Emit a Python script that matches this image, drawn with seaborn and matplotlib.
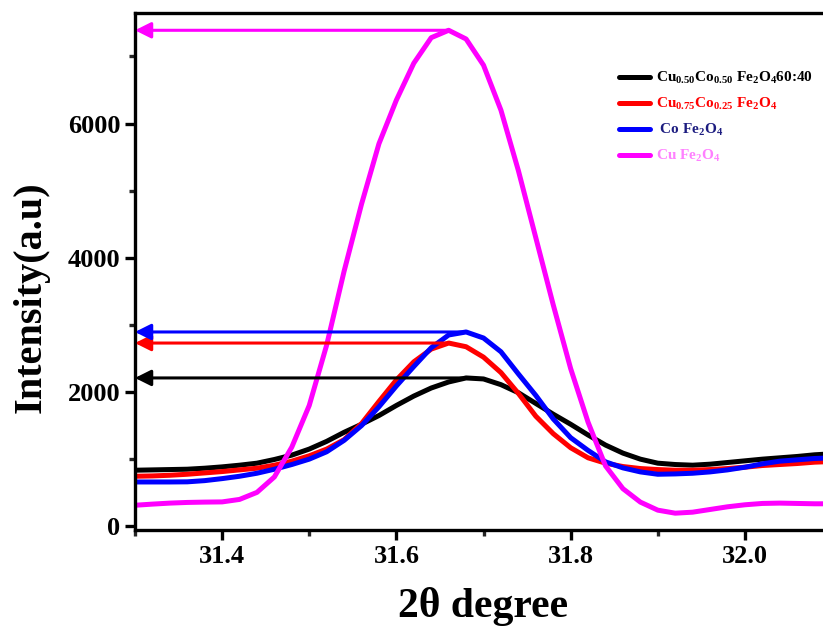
"""XRD (311) peak comparison of Cu/Co ferrite samples, redrawn with seaborn."""

import matplotlib
matplotlib.use("Agg")
import matplotlib.pyplot as plt
import numpy as np
import pandas as pd
import seaborn as sns
from matplotlib.ticker import FormatStrFormatter, MultipleLocator

two_theta = np.round(np.arange(31.30, 32.101, 0.02), 2)

cu50co50 = [835, 840, 845, 850, 865, 885, 910, 940, 995, 1060,
            1150, 1265, 1400, 1520, 1650, 1800, 1940, 2060, 2150, 2210,
            2195, 2110, 1990, 1830, 1670, 1520, 1360, 1210, 1090, 1000,
            940, 920, 910, 925, 950, 975, 1000, 1020, 1040, 1065, 1080]
cu75co25 = [745, 750, 760, 775, 795, 815, 840, 865, 910, 970,
            1050, 1150, 1290, 1530, 1860, 2180, 2450, 2640, 2730, 2675,
            2520, 2290, 1980, 1640, 1380, 1170, 1020, 940, 890, 860,
            845, 835, 835, 845, 860, 880, 905, 920, 935, 955, 965]
cofe2o4 = [660, 660, 660, 662, 680, 710, 745, 790, 850, 920,
           1000, 1110, 1280, 1500, 1780, 2090, 2380, 2660, 2850, 2895,
           2805, 2600, 2270, 1950, 1600, 1320, 1130, 960, 870, 810,
           775, 780, 790, 810, 840, 880, 930, 970, 990, 1010, 1020]
cufe2o4 = [313, 330, 345, 355, 360, 363, 400, 505, 735, 1180,
           1800, 2700, 3800, 4800, 5700, 6350, 6900, 7280, 7390, 7260,
           6870, 6200, 5300, 4300, 3300, 2350, 1550, 900, 560, 360,
           240, 195, 210, 250, 290, 320, 340, 345, 340, 335, 335]

labels = [
    r"Cu$_{0.50}$Co$_{0.50}$ Fe$_2$O$_4$60:40",
    r"Cu$_{0.75}$Co$_{0.25}$ Fe$_2$O$_4$",
    r" Co Fe$_2$O$_4$",
    r"Cu Fe$_2$O$_4$",
]
line_colors = ["black", "red", "blue", "magenta"]
text_colors = ["black", "red", "#1c1c80", "#ff80ff"]
series = [cu50co50, cu75co25, cofe2o4, cufe2o4]

df = pd.concat(
    [pd.DataFrame({"two_theta": two_theta, "intensity": s, "sample": lab})
     for s, lab in zip(series, labels)],
    ignore_index=True,
)

sns.set_theme(style="ticks")
plt.rcParams["font.family"] = ["Liberation Serif", "DejaVu Serif"]
plt.rcParams["font.weight"] = "bold"
plt.rcParams["mathtext.fontset"] = "custom"
plt.rcParams["mathtext.rm"] = "Liberation Serif:bold"
plt.rcParams["mathtext.bf"] = "Liberation Serif:bold"
plt.rcParams["mathtext.default"] = "bf"

fig = plt.figure(figsize=(8.23, 6.42), dpi=100)
ax = fig.add_axes([0.164, 0.174, 0.847, 0.806])

sns.lineplot(data=df, x="two_theta", y="intensity", hue="sample",
             palette=dict(zip(labels, line_colors)), linewidth=3.6,
             sort=False, ax=ax, legend=False)

x_left, x_right = 31.3, 32.1
ax.set_xlim(x_left, x_right)
ax.set_ylim(-60, 7650)

# arrows from each peak to the intensity axis
for s, c in zip(series, line_colors):
    i = int(np.argmax(s))
    ax.annotate("", xy=(x_left, s[i]), xytext=(two_theta[i], s[i]),
                arrowprops=dict(arrowstyle="-|>", color=c, lw=2.2,
                                mutation_scale=24, shrinkA=0, shrinkB=0))

handles = [plt.Line2D([], [], color=c, lw=3.6) for c in line_colors]
leg = ax.legend(handles, labels, loc="upper left",
                bbox_to_anchor=(0.736, 0.912), bbox_transform=fig.transFigure,
                frameon=False, fontsize=11, handlelength=2.0,
                handletextpad=0.4, labelspacing=0.65)
for t, c in zip(leg.get_texts(), text_colors):
    t.set_color(c)
    t.set_fontweight("bold")

ax.xaxis.set_major_locator(MultipleLocator(0.2))
ax.xaxis.set_minor_locator(MultipleLocator(0.1))
ax.yaxis.set_major_locator(MultipleLocator(2000))
ax.yaxis.set_minor_locator(MultipleLocator(1000))
ax.tick_params(which="major", direction="out", length=7, width=2.4,
               labelsize=19, colors="black")
ax.tick_params(which="minor", direction="out", length=4, width=2.4)
ax.xaxis.set_major_formatter(FormatStrFormatter("%.1f"))
for lab in ax.get_xticklabels() + ax.get_yticklabels():
    lab.set_fontweight("bold")
for sp in ax.spines.values():
    sp.set_linewidth(2.4)
    sp.set_color("black")

ax.set_xlabel("2θ degree", fontsize=30, fontweight="bold", labelpad=14,
              color="black")
ax.set_ylabel("Intensity(a.u)", fontsize=29, fontweight="bold", color="black")
ax.yaxis.set_label_coords(-0.122, 0.45)

fig.savefig("out.png", dpi=100)
